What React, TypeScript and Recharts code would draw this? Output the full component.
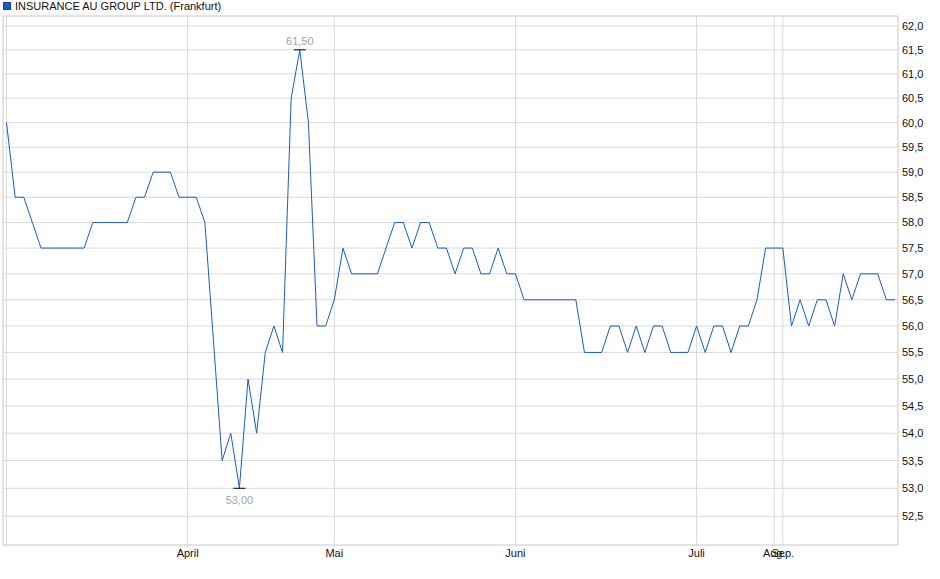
import { CartesianGrid, Line, LineChart, XAxis, YAxis } from "recharts"

// closing prices, one per trading day with a quote
const prices = [
  60.0, 58.5, 58.5, 58.0, 57.5, 57.5, 57.5, 57.5, 57.5, 57.5,
  58.0, 58.0, 58.0, 58.0, 58.0, 58.5, 58.5, 59.0, 59.0, 59.0,
  58.5, 58.5, 58.5, 58.0, 55.7, 53.5, 54.0, 53.0, 55.0, 54.0,
  55.5, 56.0, 55.5, 60.5, 61.5, 60.0, 56.0, 56.0, 56.5, 57.5,
  57.0, 57.0, 57.0, 57.0, 57.5, 58.0, 58.0, 57.5, 58.0, 58.0,
  57.5, 57.5, 57.0, 57.5, 57.5, 57.0, 57.0, 57.5, 57.0, 57.0,
  56.5, 56.5, 56.5, 56.5, 56.5, 56.5, 56.5, 55.5, 55.5, 55.5,
  56.0, 56.0, 55.5, 56.0, 55.5, 56.0, 56.0, 55.5, 55.5, 55.5,
  56.0, 55.5, 56.0, 56.0, 55.5, 56.0, 56.0, 56.5, 57.5, 57.5,
  57.5, 56.0, 56.5, 56.0, 56.5, 56.5, 56.0, 57.0, 56.5, 57.0,
  57.0, 57.0, 56.5, 56.5,
]

// first quote of each month (index into prices) and its label
const monthStarts = [0, 21, 38, 59, 80, 89, 90]
const monthLabels = ["", "April", "Mai", "Juni", "Juli", "Aug.", "Sep."]

const priceTicks = [
  52.5, 53.0, 53.5, 54.0, 54.5, 55.0, 55.5, 56.0, 56.5, 57.0,
  57.5, 58.0, 58.5, 59.0, 59.5, 60.0, 60.5, 61.0, 61.5, 62.0,
]

const seriesName = "INSURANCE AU GROUP LTD. (Frankfurt)"

const data = prices.map((price, i) => ({ i, price }))

const maxIndex = prices.indexOf(Math.max(...prices))
const minIndex = prices.indexOf(Math.min(...prices))

const GRID = "#dadada"
const BLUE = "#1a5cc6"
const FONT = "'Liberation Sans', Arial, sans-serif"

const xDomain = [-0.406, 103.35]
const yDomain = [51.99, 62.21]

const fmt = (v: number, digits: number) => v.toFixed(digits).replace(".", ",")

const renderDot = (props: any) => {
  const { cx, cy, index } = props
  if (index !== maxIndex && index !== minIndex) return <g key={`d${index}`} />
  const isMax = index === maxIndex
  return (
    <g key={`d${index}`}>
      <line x1={cx - 6} x2={cx + 6} y1={cy} y2={cy} stroke="#000" strokeWidth={1} />
      <text
        x={cx}
        y={isMax ? cy - 5 : cy + 16}
        textAnchor="middle"
        fontSize={11}
        fontFamily={FONT}
        fill="#a3a3a3"
      >
        {fmt(prices[index], 2)}
      </text>
    </g>
  )
}

export default function App() {
  return (
    <div style={{ position: "absolute", left: 0, top: 0, width: 940, height: 579, background: "#fff", fontFamily: FONT }}>
      <div style={{ position: "absolute", left: 3, top: 2, width: 6, height: 6, background: BLUE, border: "1px solid #1b3f86" }} />
      <div style={{ position: "absolute", left: 15, top: -1, fontSize: 11, color: "#111", lineHeight: "14px", whiteSpace: "nowrap" }}>
        {seriesName}
      </div>
      <LineChart width={940} height={579} data={data} margin={{ top: 0, right: 0, bottom: 0, left: 0 }}>
        <CartesianGrid xAxisId="bottom" yAxisId="right" stroke={GRID} strokeWidth={1} />
        <XAxis
          xAxisId="top"
          orientation="top"
          dataKey="i"
          type="number"
          domain={xDomain}
          allowDataOverflow
          height={16}
          tick={false}
          tickLine={false}
          axisLine={{ stroke: GRID }}
        />
        <XAxis
          xAxisId="bottom"
          dataKey="i"
          type="number"
          domain={xDomain}
          allowDataOverflow
          ticks={monthStarts}
          interval={0}
          tickFormatter={(v: number) => monthLabels[monthStarts.indexOf(v)] ?? ""}
          height={34}
          tickSize={2}
          tickMargin={2}
          tickLine={{ stroke: GRID }}
          axisLine={{ stroke: GRID }}
          tick={{ fontSize: 11, fill: "#111", fontFamily: FONT }}
        />
        <YAxis
          yAxisId="left"
          orientation="left"
          type="number"
          scale="log"
          domain={yDomain}
          allowDataOverflow
          width={3}
          tick={false}
          tickLine={false}
          axisLine={{ stroke: GRID }}
        />
        <YAxis
          yAxisId="right"
          orientation="right"
          type="number"
          scale="log"
          domain={yDomain}
          allowDataOverflow
          ticks={priceTicks}
          interval={0}
          tickFormatter={(v: number) => fmt(v, 1)}
          width={42}
          tickSize={0}
          tickMargin={4}
          tickLine={false}
          axisLine={{ stroke: GRID }}
          tick={{ fontSize: 11, fill: "#111", fontFamily: FONT }}
        />
        <Line
          xAxisId="bottom"
          yAxisId="right"
          type="linear"
          dataKey="price"
          stroke={BLUE}
          strokeWidth={1}
          dot={renderDot}
          activeDot={false}
          isAnimationActive={false}
        />
      </LineChart>
    </div>
  )
}
